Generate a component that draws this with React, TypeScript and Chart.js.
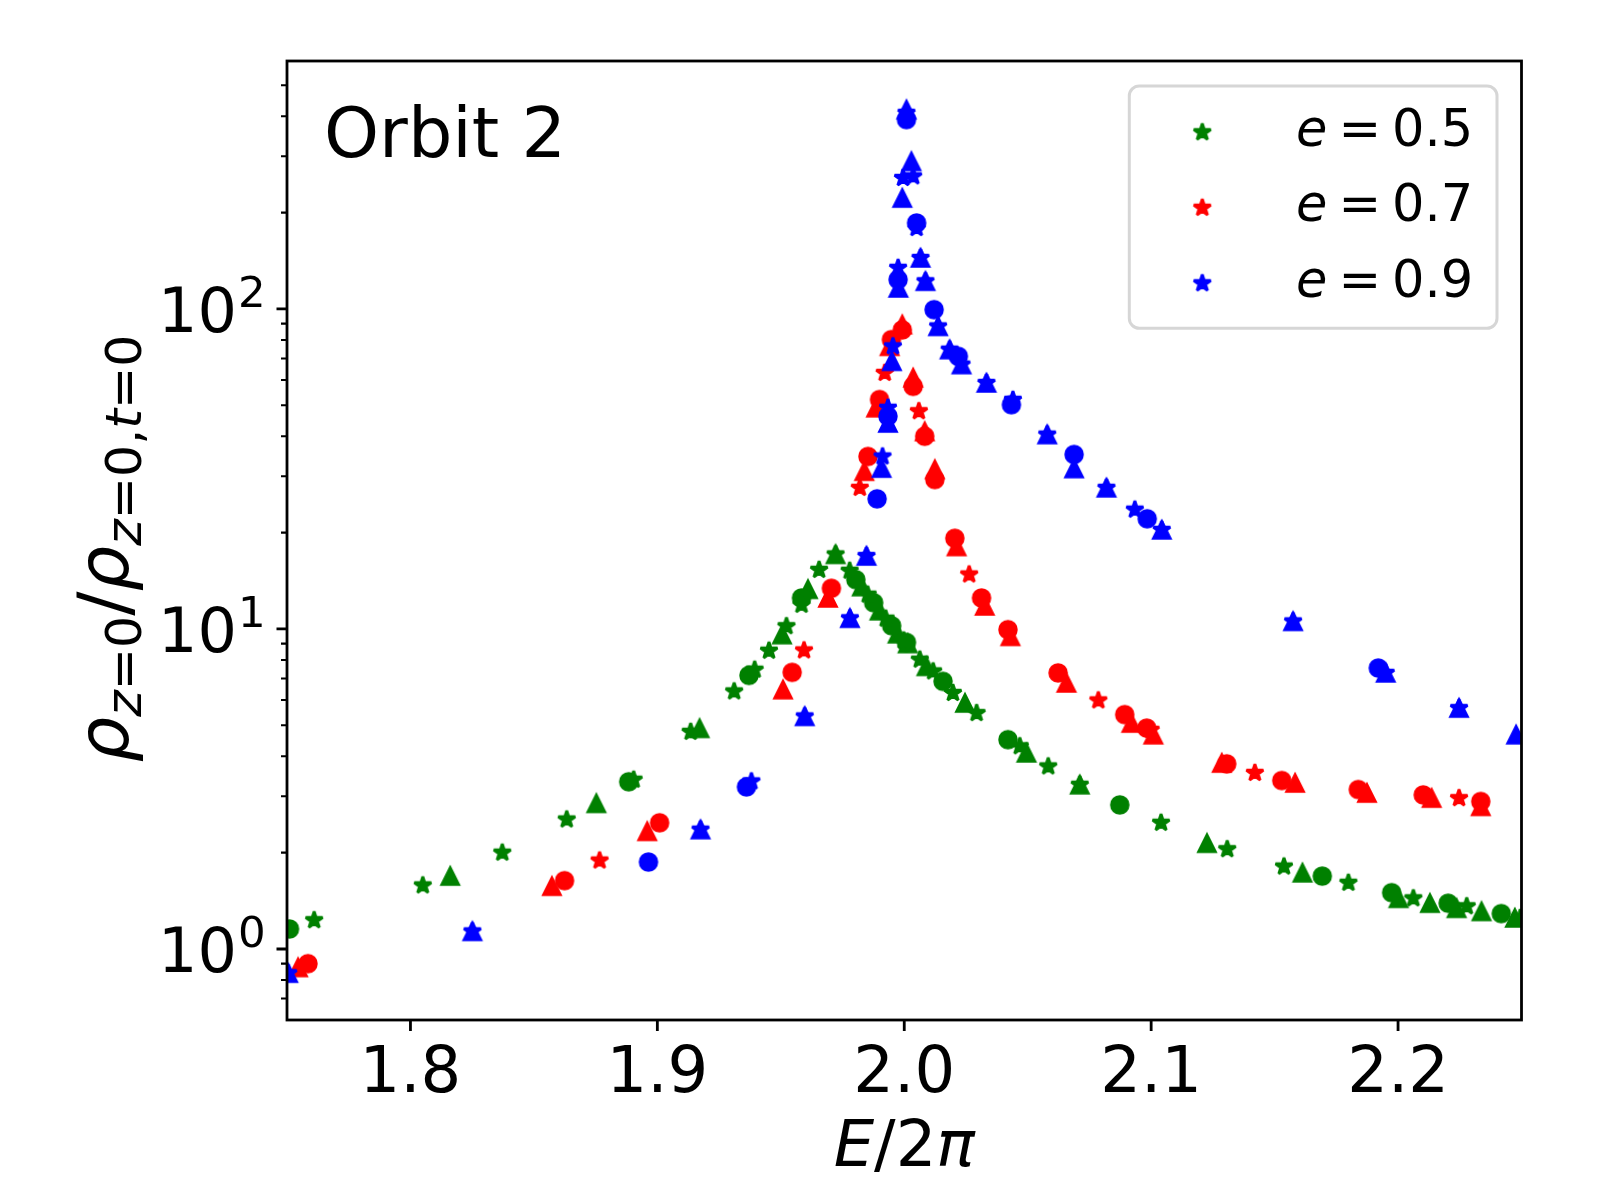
import React, { useEffect, useRef } from 'react';
import { Chart, registerables } from 'chart.js';

Chart.register(...registerables);

const FONT = '"DejaVu Sans", sans-serif';

// ---------- axis definitions ----------
const X_MIN = 1.75;
const X_MAX = 2.25;
const Y_MIN = 0.6013;
const Y_MAX = 595.3;
const xTicks = [1.8, 1.9, 2.0, 2.1, 2.2];
const yMajorTicks = [1, 10, 100];
const yMajorExp = ['0', '1', '2'];
const yMinorTicks = [0.7, 0.8, 0.9, 2, 3, 4, 5, 6, 7, 8, 9, 20, 30, 40, 50, 60, 70, 80, 90, 200, 300, 400, 500];

const legendLabels = ['0.5', '0.7', '0.9'];
const seriesColors = ['#008000', '#ff0000', '#0000ff'];

// ---------- e = 0.5 (green) ----------
const gStarX = [1.761, 1.805, 1.8372, 1.8633, 1.8904, 1.9135, 1.9311, 1.9394, 1.9452, 1.9523, 1.9584, 1.9655, 1.9722, 1.9779, 1.9852, 1.9925, 1.9998, 2.0063, 2.0117, 2.0197, 2.0293, 2.0468, 2.0583, 2.0711, 2.1040, 2.1308, 2.1538, 2.1799, 2.2062, 2.2278, 2.2495];
const gStarY = [1.23, 1.58, 2.00, 2.54, 3.38, 4.77, 6.38, 7.46, 8.55, 10.2, 11.9, 15.3, 17.1, 15.2, 12.8, 10.77, 9.2, 8.02, 7.37, 6.31, 5.46, 4.30, 3.72, 3.26, 2.48, 2.05, 1.81, 1.61, 1.44, 1.36, 1.25];
const gCircX = [1.751, 1.8884, 1.9371, 1.9584, 1.9804, 1.9876, 1.9949, 2.0009, 2.0157, 2.0420, 2.0873, 2.1693, 2.1974, 2.2203, 2.2418];
const gCircY = [1.155, 3.33, 7.16, 12.5, 14.26, 12.08, 10.23, 9.08, 6.86, 4.51, 2.82, 1.69, 1.50, 1.39, 1.29];
const gTriX = [1.8161, 1.8753, 1.9171, 1.9505, 1.9610, 1.9722, 1.9828, 1.9900, 1.9973, 2.0014, 2.0090, 2.0246, 2.0495, 2.0711, 2.1226, 2.1613, 2.2002, 2.2129, 2.2237, 2.2338, 2.2473];
const gTriY = [1.69, 2.85, 4.89, 9.6, 13.3, 17.1, 13.56, 11.4, 9.66, 9.0, 7.64, 5.87, 4.10, 3.26, 2.14, 1.73, 1.44, 1.39, 1.34, 1.31, 1.25];

// ---------- e = 0.7 (red) ----------
const rStarX = [1.8766, 1.9594, 1.9820, 1.9921, 2.0059, 2.0263, 2.0786, 2.0998, 2.1420, 2.2247];
const rStarY = [1.89, 8.57, 27.6, 63.1, 47.9, 14.8, 5.98, 4.84, 3.55, 2.96];
const rCircX = [1.7585, 1.8624, 1.9009, 1.9546, 1.9705, 1.9853, 1.9900, 1.9948, 1.9992, 2.0036, 2.0083, 2.0124, 2.0205, 2.0313, 2.0420, 2.0623, 2.0893, 2.0982, 2.1306, 2.1529, 2.1839, 2.2102, 2.2335];
const rCircY = [0.90, 1.635, 2.48, 7.32, 13.4, 34.6, 52.1, 80.2, 86.0, 57.3, 40.0, 29.3, 19.2, 12.5, 9.95, 7.29, 5.40, 4.90, 3.79, 3.36, 3.15, 3.03, 2.89];
const rTriX = [1.7545, 1.8573, 1.8959, 1.9509, 1.9691, 1.9838, 1.9886, 1.9941, 1.9992, 2.0036, 2.0083, 2.0124, 2.0212, 2.0326, 2.0430, 2.0657, 2.0920, 2.1009, 2.1286, 2.1583, 2.1874, 2.2136, 2.2335];
const rTriY = [0.875, 1.57, 2.33, 6.46, 12.5, 31.1, 49.1, 76.4, 89.3, 60.9, 41.4, 31.5, 18.1, 11.8, 9.48, 6.78, 5.08, 4.67, 3.81, 3.30, 3.07, 2.96, 2.79];

// ---------- e = 0.9 (blue) ----------
const bStarX = [1.7505, 1.8251, 1.9175, 1.9381, 1.9597, 1.9780, 1.9847, 1.9912, 1.9934, 1.9954, 1.9975, 1.9995, 2.0009, 2.0036, 2.0050, 2.0066, 2.0086, 2.0137, 2.0184, 2.0232, 2.0333, 2.0440, 2.0579, 2.0819, 2.0934, 2.1043, 2.1575, 2.1950, 2.2247];
const bStarY = [0.84, 1.135, 2.36, 3.34, 5.33, 10.8, 16.9, 34.6, 49.1, 76.4, 134.4, 256.6, 410, 259.6, 179, 144.3, 122, 88.2, 74.6, 67.0, 58.7, 52.0, 40.5, 27.6, 23.6, 20.4, 10.56, 7.29, 5.66];
const bCircX = [1.8964, 1.9361, 1.9890, 1.9934, 1.9975, 2.0009, 2.0050, 2.0121, 2.0219, 2.0434, 2.0688, 2.0984, 2.1920];
const bCircY = [1.87, 3.21, 25.5, 46.2, 123.5, 390.6, 185.6, 99.5, 71.1, 50.2, 35.1, 22.1, 7.55];
const bTriX = [1.7505, 1.8251, 1.9175, 1.9597, 1.9780, 1.9847, 1.9908, 1.9934, 1.9950, 1.9976, 1.9992, 2.0009, 2.0029, 2.0066, 2.0086, 2.0137, 2.0184, 2.0232, 2.0333, 2.0579, 2.0688, 2.0819, 2.1043, 2.1575, 2.1950, 2.2247, 2.2478];
const bTriY = [0.84, 1.135, 2.36, 5.33, 10.8, 16.9, 31.8, 44.0, 68.6, 116.3, 222, 419.5, 289, 144.3, 122, 88.2, 74.6, 67.0, 58.7, 40.5, 31.7, 27.6, 20.4, 10.56, 7.29, 5.66, 4.67];

type Shape = 'star' | 'circle' | 'triangle';

function makeMarker(shape: Shape, color: string): HTMLCanvasElement {
  const S = 30;
  const c = document.createElement('canvas');
  c.width = S;
  c.height = S;
  const ctx = c.getContext('2d')!;
  const cx = S / 2;
  const cy = S / 2;
  const r = 8.35;
  ctx.fillStyle = color;
  ctx.strokeStyle = color;
  ctx.lineWidth = 2.8;
  ctx.beginPath();
  if (shape === 'circle') {
    ctx.arc(cx, cy, r, 0, Math.PI * 2);
    ctx.lineJoin = 'round';
  } else if (shape === 'triangle') {
    ctx.moveTo(cx, cy - r);
    ctx.lineTo(cx - r, cy + r);
    ctx.lineTo(cx + r, cy + r);
    ctx.closePath();
    ctx.lineJoin = 'miter';
  } else {
    const rs = 8.9;
    for (let i = 0; i < 10; i++) {
      const ang = -Math.PI / 2 + (i * Math.PI) / 5;
      const rad = i % 2 === 0 ? rs : rs * 0.381966;
      const px = cx + rad * Math.cos(ang);
      const py = cy + rad * Math.sin(ang);
      if (i === 0) ctx.moveTo(px, py);
      else ctx.lineTo(px, py);
    }
    ctx.closePath();
    ctx.lineJoin = 'bevel';
  }
  ctx.fill();
  ctx.stroke();
  return c;
}

type Piece = { t: string; size: number; italic?: boolean; dy?: number; gap?: number };

function measurePieces(ctx: CanvasRenderingContext2D, pieces: Piece[]) {
  let w = 0;
  for (const p of pieces) {
    ctx.font = `${p.italic ? 'italic ' : ''}${p.size}px ${FONT}`;
    w += ctx.measureText(p.t).width + (p.gap || 0);
  }
  return w;
}

function drawPieces(ctx: CanvasRenderingContext2D, pieces: Piece[], x: number, y: number) {
  let cx = x;
  for (const p of pieces) {
    ctx.font = `${p.italic ? 'italic ' : ''}${p.size}px ${FONT}`;
    ctx.fillText(p.t, cx, y + (p.dy || 0));
    cx += ctx.measureText(p.t).width + (p.gap || 0);
  }
}

function makeAxesPlugin(legendStars: HTMLCanvasElement[]) {
  return {
    id: 'mplAxes',
    afterDatasetsDraw(chart: any) {
      const { ctx, chartArea: a, scales } = chart;
      const xs = scales.x;
      const ys = scales.y;
      ctx.save();
      ctx.fillStyle = '#000';
      ctx.strokeStyle = '#000';
      ctx.textAlign = 'left';
      ctx.textBaseline = 'alphabetic';

      // x ticks
      ctx.lineWidth = 2.8;
      ctx.beginPath();
      for (const v of xTicks) {
        const px = xs.getPixelForValue(v);
        ctx.moveTo(px, a.bottom);
        ctx.lineTo(px, a.bottom + 11);
      }
      ctx.stroke();
      ctx.font = `64px ${FONT}`;
      ctx.textAlign = 'center';
      for (const v of xTicks) {
        const px = xs.getPixelForValue(v);
        ctx.fillText(v.toFixed(1), px, a.bottom + 71.7);
      }
      ctx.textAlign = 'left';

      // y major ticks
      ctx.lineWidth = 2.8;
      ctx.beginPath();
      for (const v of yMajorTicks) {
        const py = ys.getPixelForValue(v);
        ctx.moveTo(a.left - 10.5, py);
        ctx.lineTo(a.left, py);
      }
      ctx.stroke();
      // y minor ticks
      ctx.lineWidth = 2.1;
      ctx.beginPath();
      for (const v of yMinorTicks) {
        const py = ys.getPixelForValue(v);
        ctx.moveTo(a.left - 6, py);
        ctx.lineTo(a.left, py);
      }
      ctx.stroke();
      // y labels 10^k
      yMajorTicks.forEach((v, i) => {
        const py = ys.getPixelForValue(v);
        const start = a.left - 129;
        ctx.font = `62px ${FONT}`;
        const w10 = ctx.measureText('10').width;
        ctx.fillText('10', start, py + 23);
        ctx.font = `43.5px ${FONT}`;
        ctx.fillText(yMajorExp[i], start + w10 + 1, py - 1.6);
      });

      // spines
      ctx.lineWidth = 2.8;
      ctx.strokeRect(a.left, a.top, a.right - a.left, a.bottom - a.top);

      // x label  E/2π
      const xl: Piece[] = [
        { t: 'E', size: 64, italic: true },
        { t: '/', size: 64 },
        { t: '2', size: 64 },
        { t: 'π', size: 64, italic: true },
      ];
      const xw = measurePieces(ctx, xl);
      drawPieces(ctx, xl, (a.left + a.right) / 2 - xw / 2, 1166);

      // y label  ρ_{z=0}/ρ_{z=0,t=0}
      const S = 72;
      const s = 50.5;
      const d = 12.5;
      const yl: Piece[] = [
        { t: 'ρ', size: S, italic: true },
        { t: 'z', size: s, italic: true, dy: d },
        { t: '=', size: s, dy: d },
        { t: '0', size: s, dy: d },
        { t: '/', size: S },
        { t: 'ρ', size: S, italic: true },
        { t: 'z', size: s, italic: true, dy: d },
        { t: '=', size: s, dy: d },
        { t: '0', size: s, dy: d },
        { t: ',', size: s, dy: d },
        { t: 't', size: s, italic: true, dy: d },
        { t: '=', size: s, dy: d },
        { t: '0', size: s, dy: d },
      ];
      const yw = measurePieces(ctx, yl);
      ctx.save();
      ctx.translate(128, (a.top + a.bottom) / 2 + 8);
      ctx.rotate(-Math.PI / 2);
      drawPieces(ctx, yl, -yw / 2, 0);
      ctx.restore();

      // annotation
      ctx.font = `70px ${FONT}`;
      ctx.fillText('Orbit 2', 324, 157.3);

      // legend
      const lx = 1129.3;
      const ly = 86;
      const lw = 1497 - lx;
      const lh = 328.3 - ly;
      ctx.beginPath();
      ctx.roundRect(lx, ly, lw, lh, 10);
      ctx.fillStyle = 'rgba(255,255,255,0.8)';
      ctx.fill();
      ctx.lineWidth = 3;
      ctx.strokeStyle = '#d6d6d6';
      ctx.stroke();
      ctx.fillStyle = '#000';
      legendLabels.forEach((lab, i) => {
        const base = 145.7 + i * 75.5;
        const img = legendStars[i];
        ctx.drawImage(img, 1202.3 - img.width / 2, base - 13.4 - img.height / 2);
        drawPieces(
          ctx,
          [
            { t: 'e', size: 51, italic: true, gap: 11 },
            { t: '=', size: 51, gap: 11 },
            { t: lab, size: 51 },
          ],
          1296,
          base
        );
      });
      ctx.restore();
    },
  };
}

export default function App() {
  const ref = useRef<HTMLCanvasElement>(null);

  useEffect(() => {
    document.body.style.margin = '0';
    const canvas = ref.current!;
    const pts = (xs: number[], ys: number[]) => xs.map((x, i) => ({ x, y: ys[i] }));
    const groups: { color: string; order: number; sets: [Shape, number[], number[]][] }[] = [
      { color: seriesColors[0], order: 2, sets: [['star', gStarX, gStarY], ['circle', gCircX, gCircY], ['triangle', gTriX, gTriY]] },
      { color: seriesColors[1], order: 1, sets: [['star', rStarX, rStarY], ['circle', rCircX, rCircY], ['triangle', rTriX, rTriY]] },
      { color: seriesColors[2], order: 0, sets: [['star', bStarX, bStarY], ['circle', bCircX, bCircY], ['triangle', bTriX, bTriY]] },
    ];
    const datasets: any[] = [];
    groups.forEach((g, gi) => {
      g.sets.forEach(([shape, xs, ys]) => {
        datasets.push({
          label: shape === 'star' ? `e = ${legendLabels[gi]}` : '',
          data: pts(xs, ys),
          pointStyle: makeMarker(shape, g.color),
          pointRadius: 10,
          showLine: false,
          clip: 0,
          order: g.order,
        });
      });
    });
    const legendStars = seriesColors.map((c) => makeMarker('star', c));

    const chart = new Chart(canvas, {
      type: 'scatter',
      data: { datasets },
      options: {
        animation: false,
        responsive: false,
        devicePixelRatio: 1,
        events: [],
        layout: { padding: { left: 287, right: 78.5, top: 61, bottom: 180 } },
        scales: {
          x: { type: 'linear', min: X_MIN, max: X_MAX, display: false },
          y: { type: 'logarithmic', min: Y_MIN, max: Y_MAX, display: false },
        },
        plugins: { legend: { display: false }, tooltip: { enabled: false } },
      },
      plugins: [makeAxesPlugin(legendStars) as any],
    });
    return () => chart.destroy();
  }, []);

  return (
    <div style={{ position: 'absolute', left: 0, top: 0, width: 1600, height: 1200, background: '#ffffff' }}>
      <canvas ref={ref} width={1600} height={1200} style={{ display: 'block' }} />
    </div>
  );
}
